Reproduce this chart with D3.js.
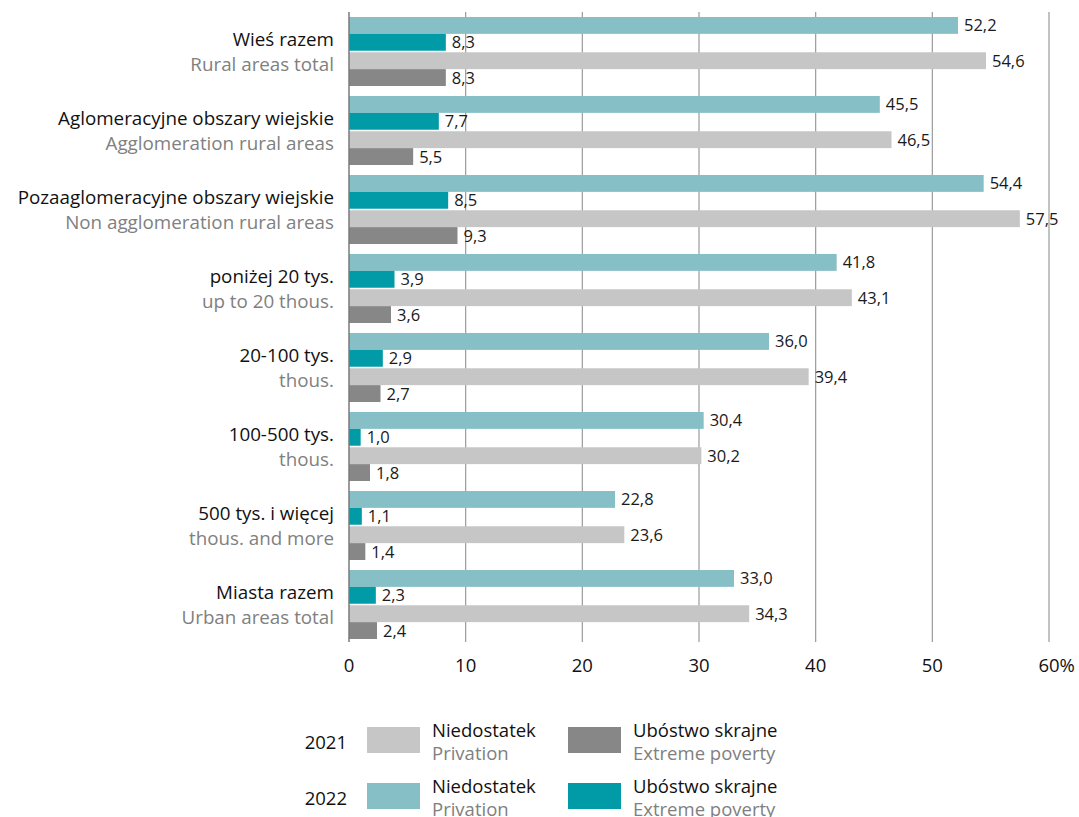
<!DOCTYPE html>
<html>
<head>
<meta charset="utf-8">
<script src="https://cdn.jsdelivr.net/npm/d3@7"></script>
<style>
  body { margin: 0; background: #fff; }
  text { font-family: "Open Sans", "Noto Sans", sans-serif; }
</style>
</head>
<body>
<div id="container"></div>
<script>
"use strict";

const width = 1079;
const height = 817;

// category labels (polish / english)
const labelsPl = ["Wieś razem", "Aglomeracyjne obszary wiejskie", "Pozaaglomeracyjne obszary wiejskie",
    "poniżej 20 tys.", "20-100 tys.", "100-500 tys.", "500 tys. i więcej", "Miasta razem"];
const labelsEn = ["Rural areas total", "Agglomeration rural areas", "Non agglomeration rural areas",
    "up to 20 thous.", "thous.", "thous.", "thous. and more", "Urban areas total"];

// values in %
const privation2022 = [52.2, 45.5, 54.4, 41.8, 36.0, 30.4, 22.8, 33.0];
const extreme2022   = [8.3, 7.7, 8.5, 3.9, 2.9, 1.0, 1.1, 2.3];
const privation2021 = [54.6, 46.5, 57.5, 43.1, 39.4, 30.2, 23.6, 34.3];
const extreme2021   = [8.3, 5.5, 9.3, 3.6, 2.7, 1.8, 1.4, 2.4];

const ticks = [0, 10, 20, 30, 40, 50, 60];

const colors = {
    p22: "#86bfc5",
    e22: "#009ba7",
    p21: "#c6c6c6",
    e21: "#878787"
};

const labelSize = "18.8px";

const x = d3.scaleLinear().domain([0, 60]).range([349, 1049]);

// group band: step 79, bar block 69
const y = d3.scaleBand().domain(d3.range(labelsPl.length))
    .range([17, 639]).paddingInner(10 / 79).paddingOuter(0);

// year pairs inside group, small gap between them
const yYear = d3.scaleBand().domain(["2022", "2021"]).range([0, y.bandwidth()]).paddingInner(3 / 69);
const yType = d3.scaleBand().domain(["p", "e"]).range([0, yYear.bandwidth()]);

const fmt = v => d3.format(".1f")(v).replace(".", ",");

const svg = d3.select("#container").append("svg")
    .attr("width", width)
    .attr("height", height);

// grid lines
svg.append("g").selectAll("line")
    .data(ticks.slice(1))
    .enter().append("line")
    .attr("x1", d => x(d)).attr("x2", d => x(d))
    .attr("y1", 12).attr("y2", 642)
    .style("stroke", "#9a9a9a")
    .style("stroke-width", 1.2);

// bars
const series = [
    { key: "p22", year: "2022", type: "p", values: privation2022 },
    { key: "e22", year: "2022", type: "e", values: extreme2022 },
    { key: "p21", year: "2021", type: "p", values: privation2021 },
    { key: "e21", year: "2021", type: "e", values: extreme2021 }
];

let barData = [];
series.forEach(s => {
    s.values.forEach((v, i) => barData.push({ i: i, v: v, s: s }));
});

const barY = d => y(d.i) + yYear(d.s.year) + yType(d.s.type);

let g = svg.append("g");
g.selectAll("rect")
    .data(barData)
    .enter().append("rect")
    .attr("x", x(0))
    .attr("y", d => barY(d))
    .attr("width", d => x(d.v) - x(0))
    .attr("height", yType.bandwidth())
    .style("fill", d => colors[d.s.key]);

g.selectAll("text")
    .data(barData)
    .enter().append("text")
    .attr("x", d => x(d.v) + 6)
    .attr("y", d => barY(d) + yType.bandwidth() / 2)
    .attr("dy", "0.36em")
    .style("font-size", "16.5px")
    .style("fill", "#1a1a1a")
    .text(d => fmt(d.v));

// y axis line
svg.append("line")
    .attr("x1", x(0)).attr("x2", x(0))
    .attr("y1", 12).attr("y2", 642)
    .style("stroke", "#7a7a7a")
    .style("stroke-width", 1.5);

// category labels: polish on top, english below in grey
let lab = svg.append("g").attr("text-anchor", "end");
labelsPl.forEach((t, i) => {
    let yc = y(i) + y.bandwidth() / 2;
    lab.append("text")
        .attr("x", 334)
        .attr("y", yc - 12)
        .attr("dy", "0.36em")
        .style("font-size", labelSize)
        .style("fill", "#111")
        .text(t);
    lab.append("text")
        .attr("x", 334)
        .attr("y", yc + 13)
        .attr("dy", "0.36em")
        .style("font-size", labelSize)
        .style("fill", "#808080")
        .text(labelsEn[i]);
});

// x tick labels, "%" hangs after the last number
let tl = svg.append("g");
tl.selectAll("text")
    .data(ticks)
    .enter().append("text")
    .attr("x", d => x(d))
    .attr("y", 665)
    .attr("dy", "0.36em")
    .attr("text-anchor", "middle")
    .style("font-size", "18.5px")
    .style("fill", "#111")
    .text(d => d);
const lastTick = tl.selectAll("text").filter(d => d === 60).node();
tl.append("text")
    .attr("x", x(60) + lastTick.getComputedTextLength() / 2)
    .attr("y", 665)
    .attr("dy", "0.36em")
    .style("font-size", "18.5px")
    .style("fill", "#111")
    .text("%");

// legend
const legendRows = [
    { year: "2021", p: colors.p21, e: colors.e21, y: 740 },
    { year: "2022", p: colors.p22, e: colors.e22, y: 796 }
];
let leg = svg.append("g");
legendRows.forEach(r => {
    leg.append("text").attr("x", 347).attr("y", r.y + 2).attr("dy", "0.36em")
        .attr("text-anchor", "end")
        .style("font-size", "18.5px").style("fill", "#111").text(r.year);
    leg.append("rect").attr("x", 367).attr("y", r.y - 13).attr("width", 53).attr("height", 26)
        .style("fill", r.p);
    leg.append("text").attr("x", 432).attr("y", r.y - 10).attr("dy", "0.36em")
        .style("font-size", "18.5px").style("fill", "#111").text("Niedostatek");
    leg.append("text").attr("x", 432).attr("y", r.y + 13).attr("dy", "0.36em")
        .style("font-size", "18.5px").style("fill", "#808080").text("Privation");
    leg.append("rect").attr("x", 568).attr("y", r.y - 13).attr("width", 53).attr("height", 26)
        .style("fill", r.e);
    leg.append("text").attr("x", 633).attr("y", r.y - 10).attr("dy", "0.36em")
        .style("font-size", "18.5px").style("fill", "#111").text("Ubóstwo skrajne");
    leg.append("text").attr("x", 633).attr("y", r.y + 13).attr("dy", "0.36em")
        .style("font-size", "18.5px").style("fill", "#808080").text("Extreme poverty");
});
</script>
</body>
</html>
